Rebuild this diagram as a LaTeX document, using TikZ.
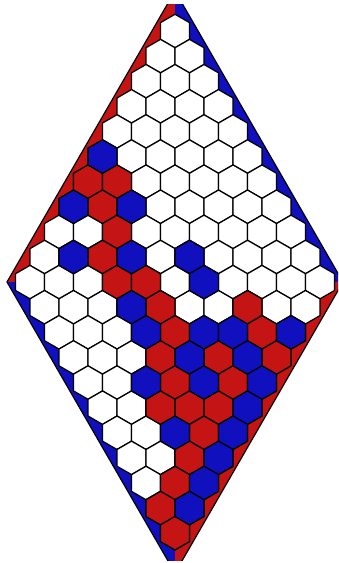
\documentclass[tikz,border=0pt]{standalone}
\definecolor{hexred}{RGB}{196,20,20}
\definecolor{hexblue}{RGB}{16,16,190}
\usepackage{tikz}

% one cell of the board: row, place in row, fill colour
\newcommand{\hexcell}[3]{%
  \pgfmathsetmacro{\hexn}{min(#1,22-#1)}
  \pgfmathsetmacro{\hexx}{175+(#2-(\hexn+1)/2)*29}
  \pgfmathsetmacro{\hexy}{31+(#1-1)*25.11}
  \filldraw[fill=#3, draw=black, line width=1.25pt]
    (\hexx,\hexy) +(90:16.74) -- +(30:16.74) -- +(-30:16.74)
    -- +(-90:16.74) -- +(-150:16.74) -- +(150:16.74) -- cycle;
}

\begin{document}
\begin{tikzpicture}[x=1pt, y=-1pt]
        \useasboundingbox (0,0) rectangle (338,563);
        % border of the board
        \begin{scope}
          \clip (0,4.7) rectangle (338,560);
          \fill[hexred]  (175,-9) -- (7,282) -- (175,282) -- cycle;
          \fill[hexblue] (175,-9) -- (343,282) -- (175,282) -- cycle;
          \fill[hexblue] (7,282) -- (175,573) -- (175,282) -- cycle;
          \fill[hexred]  (343,282) -- (175,573) -- (175,282) -- cycle;
          \draw[line width=1.2pt] (175,-9) -- (343,282) -- (175,573) -- (7,282) -- cycle;
        \end{scope}
        % empty cells
        \foreach \r in {1,...,21}{
          \pgfmathtruncatemacro{\rowlen}{min(\r,22-\r)}
          \foreach \k in {1,...,\rowlen}{
            \hexcell{\r}{\k}{white}
          }
        }
        % red stones
        \foreach \r/\k in {7/1, 7/2, 8/2, 9/3, 10/3, 11/4, 11/5, 12/5, 12/8,
                           13/5, 13/8, 14/4, 14/6, 14/8, 15/4, 15/6, 16/3,
                           16/4, 16/5, 17/4, 18/3, 19/2, 20/1, 21/1}{
          \hexcell{\r}{\k}{hexred}
        }
        % blue stones
        \foreach \r/\k in {6/1, 8/1, 8/3, 10/2, 10/4, 10/6, 11/7, 12/4, 13/4,
                           13/6, 13/7, 13/9, 14/5, 14/7, 15/3, 15/5, 15/7,
                           16/6, 17/3, 17/5, 18/4, 19/3, 20/2}{
          \hexcell{\r}{\k}{hexblue}
        }
      \end{tikzpicture}
\end{document}
